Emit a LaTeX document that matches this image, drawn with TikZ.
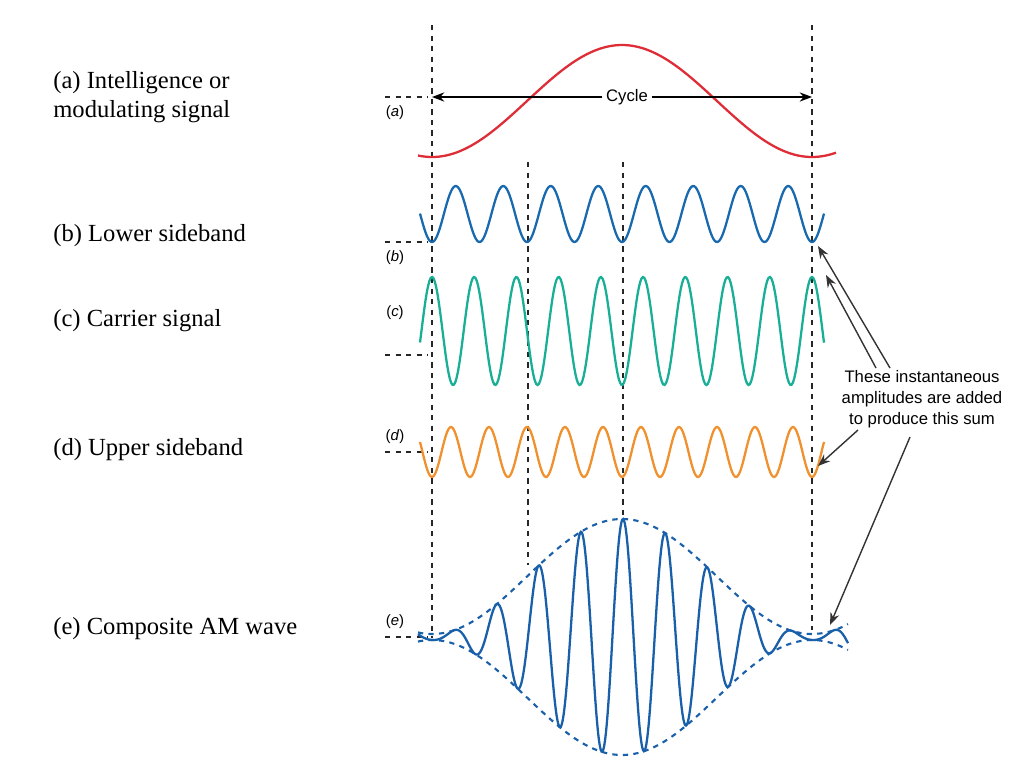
\documentclass[tikz,border=0pt]{standalone}
\usepackage{fontspec}
\setmainfont{Liberation Serif}
\setsansfont{Liberation Sans}
\usetikzlibrary{arrows.meta,positioning}
\definecolor{modred}{RGB}{222,45,55}
\definecolor{lsbblue}{RGB}{25,105,175}
\definecolor{carteal}{RGB}{25,175,150}
\definecolor{usborange}{RGB}{240,145,45}
\definecolor{amblue}{RGB}{25,95,170}
\begin{document}
\begin{tikzpicture}[x=0.02cm,y=-0.02cm]
    \tikzstyle{guide}=[draw=black!85,dashed,line width=0.9pt]
    \tikzstyle{wave}=[line width=1.3pt]
    \tikzstyle{caption}=[anchor=west,font=\fontsize{14}{16.5}\selectfont,inner sep=0pt]
    \tikzstyle{tag}=[font=\sffamily\fontsize{8.5}{10}\selectfont,inner sep=0pt]
    \tikzstyle{pointer}=[-{Stealth[length=7pt]},draw=black!80,line width=0.8pt]

    \useasboundingbox (0,0) rectangle (1024,768);

    % Vertical guide lines
    \draw[guide] (432,25) -- (432,638);
    \draw[guide] (812,25) -- (812,630);
    \draw[guide] (528,162) -- (528,565);
    \draw[guide] (623,162) -- (623,522);

    % Horizontal reference stubs
    \foreach \y in {97,242,355,452,637}
        \draw[guide] (385,\y) -- (428,\y);

    % Waveforms
    \draw[wave,modred] plot[domain=418:836,samples=120] (\x,{101+56*cos((\x-432)/380*360)});
    \draw[wave,lsbblue] plot[domain=420:824,samples=300] (\x,{214+28*cos((\x-432)/47.5*360)});
    \draw[wave,carteal] plot[domain=420:824,samples=300] (\x,{331-54*cos((\x-432)/42.22*360)});
    \draw[wave,usborange] plot[domain=420:824,samples=300] (\x,{452+25*cos((\x-432)/38*360)});

    % Composite wave and envelope
    \draw[guide,amblue,line width=1.2pt] plot[domain=418:848,samples=150] (\x,{637-3-57.5*(1-cos((\x-432)/380*360))});
    \draw[guide,amblue,line width=1.2pt] plot[domain=418:848,samples=150] (\x,{637+3+57.5*(1-cos((\x-432)/380*360))});
    \draw[wave,amblue] plot[domain=418:848,samples=500] (\x,{637-(3+57.5*(1-cos((\x-432)/380*360)))*cos((\x-623)/42.22*360)});

    % Cycle marker
    \node[font=\sffamily\fontsize{9.5}{11}\selectfont,fill=white,inner sep=2pt] (cyc) at (627,97) {Cycle};
    \coordinate (cycL) at (432,97);
    \coordinate (cycR) at (812,97);
    \draw[-{Stealth[length=7pt]},line width=0.8pt] (cyc) -- (cycL);
    \draw[-{Stealth[length=7pt]},line width=0.8pt] (cyc) -- (cycR);

    % Small tags
    \node[tag] (ta) at (395,113) {(\textit{a})};
    \node[tag] (tb) at (395,258) {(\textit{b})};
    \node[tag] (tc) at (395,313) {(\textit{c})};
    \node[tag] (td) at (395,437) {(\textit{d})};
    \node[tag] (te) at (395,622) {(\textit{e})};

    % Captions
    \node[caption] (ca) at (53,97) {\begin{tabular}{@{}l@{}}(a) Intelligence or\\modulating signal\end{tabular}};
    \node[caption] (cb) at (53,236) {(b) Lower sideband};
    \node[caption] (cc) at (53,321) {(c) Carrier signal};
    \node[caption] (cd) at (53,450) {(d) Upper sideband};
    \node[caption] (ce) at (53,629) {(e) Composite AM wave};

    % Annotation
    \node[font=\sffamily\fontsize{9.5}{12}\selectfont,align=center] (note) at (922,399)
        {These instantaneous\\amplitudes are added\\to produce this sum};
    \coordinate (pb) at (818,246);
    \coordinate (pc) at (826,275);
    \coordinate (pd) at (818,466);
    \coordinate (pe) at (830,625);
    \draw[pointer] (890,368) -- (pb);
    \draw[pointer] (876,368) -- (pc);
    \draw[pointer] (858,430) -- (pd);
    \draw[pointer] (910,437) -- (pe);
\end{tikzpicture}
\end{document}
